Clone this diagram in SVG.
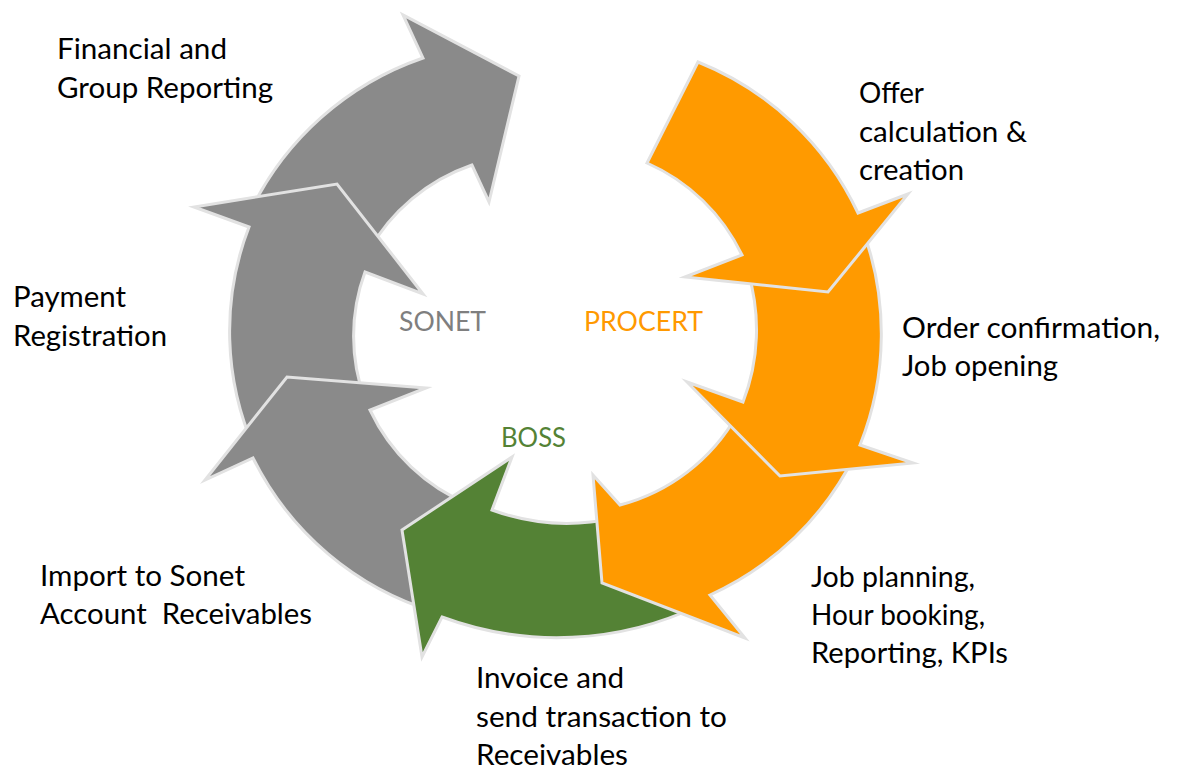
<svg xmlns="http://www.w3.org/2000/svg" width="1177" height="769" viewBox="0 0 1177 769">
<style>
.arrow{stroke:#e2e2e2;stroke-width:3;stroke-linejoin:miter;stroke-miterlimit:10}
.gray{fill:#8a8a8a}
.orange{fill:#ff9a00}
.green{fill:#548235}
.lbl{font-family:Lato,"Liberation Sans",sans-serif;font-size:29px;fill:#000}
.sys{font-family:Lato,"Liberation Sans",sans-serif;font-size:27px}
</style>
<rect width="1177" height="769" fill="#fff"/>
<g id="financial">
<path class="arrow gray" d="M250,212 A300,300 0 0 1 423,58 L403,15 L519,76 L489,202 L472,165 A190,190 0 0 0 368,252 Z"/>
<text class="lbl" x="57" y="59" textLength="170" lengthAdjust="spacingAndGlyphs">Financial and</text>
<text class="lbl" x="57" y="97.5" textLength="216" lengthAdjust="spacingAndGlyphs">Group Reporting</text>
</g>
<g id="payment">
<path class="arrow gray" d="M255,450 A290,290 0 0 1 249,227 L194,207 L337,184 L423,294 L365,272 A185,185 0 0 0 365,400 Z"/>
<text class="lbl" x="13" y="307" textLength="113" lengthAdjust="spacingAndGlyphs">Payment</text>
<text class="lbl" x="13" y="346" textLength="154" lengthAdjust="spacingAndGlyphs">Registration</text>
</g>
<g id="import">
<path class="arrow gray" d="M435,612 A300,300 0 0 1 253,458 L205,480 L287,377 L426,388 L370,410 A190,190 0 0 0 470,505 Z"/>
<text class="lbl" x="40" y="586" textLength="205" lengthAdjust="spacingAndGlyphs">Import to Sonet</text>
<text class="lbl" x="40" y="624" textLength="272" lengthAdjust="spacingAndGlyphs" xml:space="preserve">Account  Receivables</text>
</g>
<g id="invoice">
<path class="arrow green" d="M700,605 A330,330 0 0 1 442,617 L422,657 L402,530 L512,457 L492,510 A220,220 0 0 0 615,518 Z"/>
<text class="lbl" x="476" y="688" textLength="148" lengthAdjust="spacingAndGlyphs">Invoice and</text>
<text class="lbl" x="476" y="727" textLength="251" lengthAdjust="spacingAndGlyphs">send transaction to</text>
<text class="lbl" x="476" y="765" textLength="152" lengthAdjust="spacingAndGlyphs">Receivables</text>
</g>
<g id="job-planning">
<path class="arrow orange" d="M855,455 A300,300 0 0 1 710,595 L745,638 L602,583 L593,475 L620,505 A190,190 0 0 0 737,415 Z"/>
<text class="lbl" x="811" y="587" textLength="164" lengthAdjust="spacingAndGlyphs">Job planning,</text>
<text class="lbl" x="811" y="625" textLength="174" lengthAdjust="spacingAndGlyphs">Hour booking,</text>
<text class="lbl" x="811" y="663" textLength="197" lengthAdjust="spacingAndGlyphs">Reporting, KPIs</text>
</g>
<g id="order">
<path class="arrow orange" d="M862,228 A300,300 0 0 1 860,445 L913,463 L780,476 L687,382 L743,402 A200,200 0 0 0 748,272 Z"/>
<text class="lbl" x="902" y="338" textLength="258" lengthAdjust="spacingAndGlyphs">Order confirmation,</text>
<text class="lbl" x="902" y="376" textLength="156" lengthAdjust="spacingAndGlyphs">Job opening</text>
</g>
<g id="offer">
<path class="arrow orange" d="M698,62 A300,300 0 0 1 858,213 L908,194 L828,292 L685,277 L742,255 A190,190 0 0 0 647,163 Z"/>
<text class="lbl" x="859" y="103" textLength="65" lengthAdjust="spacingAndGlyphs">Offer</text>
<text class="lbl" x="859" y="142" textLength="168" lengthAdjust="spacingAndGlyphs">calculation &amp;</text>
<text class="lbl" x="859" y="180" textLength="105" lengthAdjust="spacingAndGlyphs">creation</text>
</g>
<g id="sonet">
<text class="sys" x="399" y="331" fill="#7f7f7f" textLength="87" lengthAdjust="spacingAndGlyphs">SONET</text>
</g>
<g id="procert">
<text class="sys" x="584" y="331" fill="#ff9900" textLength="119" lengthAdjust="spacingAndGlyphs">PROCERT</text>
</g>
<g id="boss">
<text class="sys" x="501" y="447" fill="#548235" textLength="65" lengthAdjust="spacingAndGlyphs">BOSS</text>
</g>
</svg>
